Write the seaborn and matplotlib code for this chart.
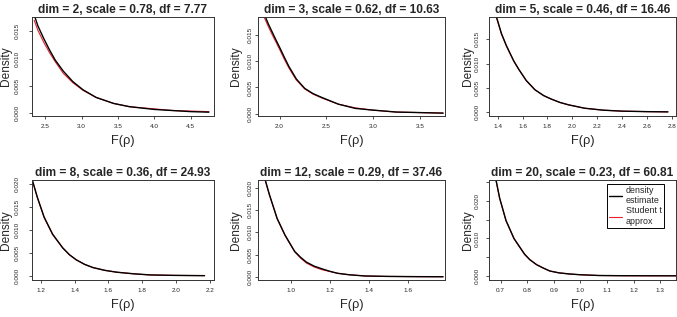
#!/usr/bin/env python3
import numpy as np
import pandas as pd
import seaborn as sns
from matplotlib import pyplot as plt

# panel titles
titles = ['dim = 2, scale = 0.78, df = 7.77',
          'dim = 3, scale = 0.62, df = 10.63',
          'dim = 5, scale = 0.46, df = 16.46',
          'dim = 8, scale = 0.36, df = 24.93',
          'dim = 12, scale = 0.29, df = 37.46',
          'dim = 20, scale = 0.23, df = 60.81']

# density estimate (black) and Student t approx (red)
x1 = [2.35, 2.40, 2.48, 2.56, 2.64, 2.75, 2.88, 3.02, 3.20, 3.44, 3.66, 4.00, 4.25, 4.50, 4.75]
d1 = [0.0180, 0.0160, 0.0137, 0.0116, 0.0097, 0.0077, 0.0058, 0.0043, 0.0029, 0.0018, 0.0012, 0.0007, 0.0005, 0.0003, 0.0002]
t1 = [0.0170, 0.0152, 0.0130, 0.0111, 0.0094, 0.0073, 0.0056, 0.0042, 0.0029, 0.0018, 0.0012, 0.0008, 0.0005, 0.0004, 0.0003]

x2 = [1.84, 1.88, 1.92, 1.96, 2.01, 2.05, 2.10, 2.18, 2.27, 2.36, 2.45, 2.63, 2.81, 2.98, 3.25, 3.50, 3.75]
d2 = [0.0188, 0.0171, 0.0156, 0.0141, 0.0123, 0.0108, 0.0090, 0.0066, 0.0048, 0.0038, 0.0031, 0.0018, 0.0010, 0.0007, 0.0003, 0.0002, 0.0001]
t2 = [0.0182, 0.0166, 0.0151, 0.0137, 0.0119, 0.0104, 0.0087, 0.0064, 0.0047, 0.0037, 0.0030, 0.0018, 0.0011, 0.0007, 0.0003, 0.0002, 0.0001]

x3 = [1.38, 1.43, 1.47, 1.50, 1.53, 1.57, 1.63, 1.70, 1.77, 1.83, 1.90, 1.97, 2.10, 2.25, 2.40, 2.60, 2.77]
d3 = [0.0205, 0.0162, 0.0137, 0.0121, 0.0105, 0.0088, 0.0065, 0.0046, 0.0034, 0.0027, 0.0020, 0.0015, 0.0008, 0.0004, 0.0002, 0.0001, 0.00005]
t3 = [0.0203, 0.0161, 0.0136, 0.0120, 0.0105, 0.0088, 0.0065, 0.0046, 0.0034, 0.0027, 0.0020, 0.0015, 0.0008, 0.0004, 0.0002, 0.0001, 0.00005]

x4 = [1.145, 1.18, 1.22, 1.27, 1.33, 1.37, 1.41, 1.46, 1.51, 1.58, 1.65, 1.75, 1.85, 2.00, 2.17]
d4 = [0.0215, 0.0171, 0.0128, 0.0091, 0.0061, 0.0046, 0.0035, 0.0025, 0.0018, 0.0012, 0.0008, 0.00045, 0.0002, 0.0001, 0.00005]
t4 = [0.0214, 0.0170, 0.0127, 0.0090, 0.0061, 0.0046, 0.0035, 0.0025, 0.0018, 0.0012, 0.0008, 0.00045, 0.0002, 0.0001, 0.00005]

x5 = [0.86, 0.89, 0.93, 0.97, 1.02, 1.05, 1.08, 1.12, 1.16, 1.20, 1.24, 1.30, 1.38, 1.50, 1.65, 1.78]
d5 = [0.0231, 0.0185, 0.0131, 0.0094, 0.0057, 0.0044, 0.0033, 0.0024, 0.0018, 0.00125, 0.0008, 0.00047, 0.0002, 0.0001, 0.00005, 0.00003]
t5 = [0.0230, 0.0184, 0.0130, 0.0093, 0.0056, 0.0042, 0.0031, 0.0022, 0.0016, 0.0012, 0.0008, 0.00047, 0.0002, 0.0001, 0.00005, 0.00003]

x6 = [0.675, 0.696, 0.72, 0.75, 0.79, 0.81, 0.835, 0.86, 0.885, 0.92, 0.96, 1.00, 1.07, 1.15, 1.25, 1.36]
d6 = [0.0282, 0.0208, 0.0148, 0.0100, 0.0058, 0.0043, 0.0030, 0.0021, 0.0013, 0.0008, 0.0005, 0.0003, 0.0001, 0.00005, 0.00003, 0.00002]
t6 = [0.0281, 0.0207, 0.0147, 0.0099, 0.0057, 0.0043, 0.0030, 0.0021, 0.0013, 0.0008, 0.0005, 0.0003, 0.0001, 0.00005, 0.00003, 0.00002]

xs = [x1, x2, x3, x4, x5, x6]
dens = [d1, d2, d3, d4, d5, d6]
tapx = [t1, t2, t3, t4, t5, t6]

xticks = [[2.5, 3.0, 3.5, 4.0, 4.5],
          [2.0, 2.5, 3.0, 3.5],
          [1.4, 1.6, 1.8, 2.0, 2.2, 2.4, 2.6, 2.8],
          [1.2, 1.4, 1.6, 1.8, 2.0, 2.2],
          [1.0, 1.2, 1.4, 1.6],
          [0.7, 0.8, 0.9, 1.0, 1.1, 1.2, 1.3]]
yticks = [[0.0, 0.005, 0.010, 0.015]] * 3 + [[0.0, 0.005, 0.010, 0.015, 0.020]] * 2 + \
         [[0.0, 0.005, 0.010, 0.015, 0.020, 0.025]]
ytick_labels = [['0.000', '0.005', '0.010', '0.015']] * 3 + \
               [['0.000', '0.005', '0.010', '0.015', '0.020']] * 2 + \
               [['0.000', '', '0.010', '', '0.020', '']]
xlims = [(2.32, 4.82), (1.77, 3.77), (1.33, 2.835), (1.148, 2.226), (0.832, 1.79), (0.656, 1.36)]
ylims = [(-0.0005, 0.0176), (-0.00045, 0.0184), (-0.0008, 0.0196),
         (-0.0009, 0.0209), (-0.0007, 0.0217), (-0.0011, 0.0256)]

sns.set_theme(style='ticks')
plt.rcParams['font.family'] = ['Liberation Sans', 'DejaVu Sans']

W, H = 677, 317
fig = plt.figure(figsize=(W / 100, H / 100), dpi=100)

cols = [(32, 214), (258, 445), (489, 676)]
rows = [(17, 116), (180, 280)]
ylab_off = [26, 22, 21]
ytick_pad = [6.5, 1.0, 4.0]

for i in range(6):
    r, c = divmod(i, 3)
    l, rr = cols[c]
    t, b = rows[r]
    ax = fig.add_axes([l / W, 1 - b / H, (rr - l) / W, (b - t) / H])
    df = pd.DataFrame({'x': xs[i], 'dens': dens[i], 'tapx': tapx[i]})
    sns.lineplot(data=df, x='x', y='tapx', ax=ax, color='#e8202a', lw=0.8,
                 label='Student t\napprox')
    sns.lineplot(data=df, x='x', y='dens', ax=ax, color='black', lw=1.0,
                 label='density\nestimate')
    ax.set_xlim(*xlims[i])
    ax.set_ylim(*ylims[i])
    ax.set_xticks(xticks[i])
    ax.set_xticklabels([f'{v:.1f}' for v in xticks[i]])
    ax.set_yticks(yticks[i])
    ax.set_yticklabels(ytick_labels[i], rotation=90, va='center')
    ax.tick_params(axis='both', direction='out', length=2.5, width=0.6,
                   labelsize=4.6, color='#333333')
    ax.tick_params(axis='x', pad=3.5)
    ax.tick_params(axis='y', pad=ytick_pad[c])
    for s in ax.spines.values():
        s.set_linewidth(0.7)
        s.set_color('#333333')
    ax.set_title(titles[i], fontsize=8.6, fontweight='bold', pad=3)
    ax.set_xlabel('F(ρ)', fontsize=9.2)
    ax.set_ylabel('Density', fontsize=8.6)
    h = b - t
    ax.xaxis.set_label_coords(0.5, -25 / h)
    ax.yaxis.set_label_coords(-ylab_off[c] / (rr - l), 0.5)
    ax.xaxis.label.set_va('center')
    ax.yaxis.label.set_va('center')
    if i == 5:
        hs, ls = ax.get_legend_handles_labels()
        leg = ax.legend(hs[::-1], ls[::-1], loc='upper right',
                        bbox_to_anchor=(0.935, 0.965), borderaxespad=0,
                        fontsize=6.4, frameon=True, fancybox=False,
                        handlelength=1.5, handletextpad=0.4, borderpad=0.25,
                        labelspacing=0.15)
        leg.get_frame().set_edgecolor('black')
        leg.get_frame().set_linewidth(0.7)
        leg.get_frame().set_alpha(1)
    else:
        ax.get_legend().remove()

plt.savefig('out.png', dpi=100)
